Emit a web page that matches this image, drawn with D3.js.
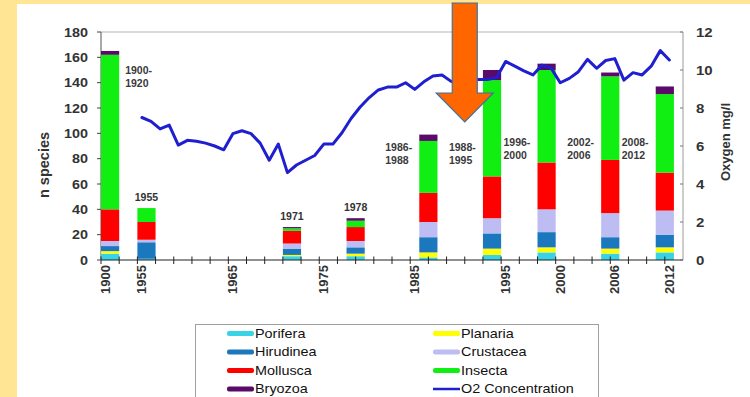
<!DOCTYPE html>
<html>
<head>
<meta charset="utf-8">
<script src="https://cdn.jsdelivr.net/npm/d3@7/dist/d3.min.js"></script>
<style>
  html, body { margin: 0; padding: 0; background: #fff; }
  svg { display: block; }
  text { font-family: "Liberation Sans", Arial, sans-serif; }
</style>
</head>
<body>
<div id="chart"></div>
<script>
// ---------------- DATA ----------------
// x-axis category keys (one slot each); blank slots between 1900 and 1955 and after 2012
const o2Years = ["1955","1956","1957","1958","1959","1960","1961","1962","1963","1964",
  "1965","1966","1967","1968","1969","1970","1971","1972","1973","1974",
  "1975","1976","1977","1978","1979","1980","1981","1982","1983","1984",
  "1985","1986","1987","1988","1989","1990","1991","1992","1993","1994",
  "1995","1996","1997","1997b","1998","1999","2000","2001","2002","2003",
  "2004","2005","2006","2007","2008","2009","2010","2011","2012"];
const o2Values = [7.5,7.3,6.9,7.1,6.05,6.3,6.25,6.15,6.0,5.8,
  6.65,6.8,6.65,6.15,5.25,6.1,4.6,5.0,5.25,5.5,
  6.1,6.1,6.7,7.45,8.05,8.55,8.95,9.1,9.1,9.33,
  8.98,9.38,9.68,9.74,9.4,9.3,9.5,9.5,9.5,9.6,
  10.45,10.2,9.95,9.74,10.26,10.1,9.33,9.56,9.91,10.56,
  10.09,10.5,10.6,9.47,9.86,9.74,10.2,11.02,10.53];
const xCategories = ["1900","gap1","gap2","gap3"].concat(o2Years, ["pad"]);
const xTickLabels = ["1900","1955","1965","1975","1985","1995","2000","2006","2012"];

// stacked bars (n species per group)
const barSlots  = ["1900","1955","1971","1978","1986","1993","1998","2005","2011"];
const porifera  = [5, 1, 3, 3, 2, 4, 6, 5, 6];
const planaria  = [2, 0, 1, 2, 4, 5, 4, 4, 4];
const hirudinea = [4, 13, 5, 5, 12, 12, 12, 9, 10];
const crustacea = [4, 2, 4, 5, 12, 12, 18, 19, 19];
const mollusca  = [25, 14, 10, 11, 23, 33, 37, 42, 30];
const insecta   = [122, 11, 2, 5, 41, 76, 73, 66, 62];
const bryozoa   = [3, 0, 1, 2, 5, 8, 5, 3, 6];

const taxa = ["Porifera","Planaria","Hirudinea","Crustacea","Mollusca","Insecta","Bryozoa"];
const taxaValues = [porifera, planaria, hirudinea, crustacea, mollusca, insecta, bryozoa];

const leftTicks  = [0,20,40,60,80,100,120,140,160,180];
const rightTicks = [0,2,4,6,8,10,12];

// annotations
const singleNotes = [{bar:"1955", text:"1955"},{bar:"1971", text:"1971"},{bar:"1978", text:"1978"}];
const periodNotes = [
  {bar:"1900", lines:["1900-","1920"], side:"right", at:150},
  {bar:"1986", lines:["1986-","1988"], side:"left", at:89},
  {bar:"1993", lines:["1988-","1995"], side:"left", at:89},
  {bar:"1998", lines:["1996-","2000"], side:"left", at:93},
  {bar:"2005", lines:["2002-","2006"], side:"left", at:93},
  {bar:"2011", lines:["2008-","2012"], side:"left", at:93}
];

// ---------------- STYLE ----------------
const colors = {
  Porifera:"#38D3E6", Planaria:"#FFFF00", Hirudinea:"#1C78BE", Crustacea:"#BDBDF4",
  Mollusca:"#FF0000", Insecta:"#11EE11", Bryozoa:"#5A0A68"
};
const lineColor = "#1F1FCF";

const W = 750, H = 397;
const svg = d3.select("#chart").append("svg").attr("width", W).attr("height", H);

// frame background
svg.append("rect").attr("width", W).attr("height", H).attr("fill", "#FFE594");
svg.append("rect").attr("x", 17).attr("y", 4).attr("width", W - 17).attr("height", H - 4).attr("fill", "#fff");

const plot = {l: 101, r: 683, t: 32, b: 260};

const x = d3.scaleBand().domain(xCategories).range([plot.l, plot.r]).padding(0);
const yL = d3.scaleLinear().domain([0, 180]).range([plot.b, plot.t]);
const yR = d3.scaleLinear().domain([0, 12]).range([plot.b, plot.t]);

// plot frame lines
svg.append("line").attr("x1", plot.l).attr("x2", plot.r).attr("y1", plot.t).attr("y2", plot.t)
  .attr("stroke", "#b5b5b5").attr("stroke-width", 1);
svg.append("line").attr("x1", plot.r).attr("x2", plot.r).attr("y1", plot.t).attr("y2", plot.b)
  .attr("stroke", "#9a9a9a").attr("stroke-width", 1);
svg.append("line").attr("x1", plot.l).attr("x2", plot.l).attr("y1", plot.t).attr("y2", plot.b)
  .attr("stroke", "#555").attr("stroke-width", 1);

// ---------------- BARS ----------------
const rows = barSlots.map((s, i) => {
  const o = {slot: s};
  taxa.forEach((t, k) => o[t] = taxaValues[k][i]);
  return o;
});
const stacked = d3.stack().keys(taxa)(rows);
const bw = x.bandwidth() * 2;

svg.append("g").selectAll("g").data(stacked).join("g")
  .attr("fill", d => colors[d.key])
  .selectAll("rect").data(d => d).join("rect")
  .attr("x", d => x(d.data.slot))
  .attr("width", bw)
  .attr("y", d => yL(d[1]))
  .attr("height", d => Math.max(0, yL(d[0]) - yL(d[1])));

// ---------------- AXES ----------------
// x axis line + ticks every 2 slots
svg.append("line").attr("x1", plot.l).attr("x2", plot.r).attr("y1", plot.b).attr("y2", plot.b)
  .attr("stroke", "#222").attr("stroke-width", 1.2);
const xTickSlots = xCategories.filter((c, i) => i % 2 === 0);
svg.append("g").selectAll("line").data(xTickSlots).join("line")
  .attr("x1", d => x(d)).attr("x2", d => x(d))
  .attr("y1", plot.b - 3.5).attr("y2", plot.b + 4)
  .attr("stroke", "#222").attr("stroke-width", 1);

svg.append("g").selectAll("text").data(xTickLabels).join("text")
  .attr("transform", d => `translate(${x(d) + x.bandwidth() / 2},265) rotate(-90)`)
  .attr("text-anchor", "end").attr("dy", "0.35em")
  .attr("font-size", 13).attr("font-weight", "bold").attr("fill", "#333")
  .text(d => d);

// left axis
svg.append("g").selectAll("line").data(leftTicks).join("line")
  .attr("x1", plot.l - 4).attr("x2", plot.l).attr("y1", d => yL(d)).attr("y2", d => yL(d))
  .attr("stroke", "#444");
svg.append("g").selectAll("text").data(leftTicks).join("text")
  .attr("transform", d => `translate(88,${yL(d)}) scale(1.15,1)`)
  .attr("text-anchor", "end").attr("dy", "0.36em")
  .attr("font-size", 12.5).attr("font-weight", "bold").attr("fill", "#333")
  .text(d => d);

// right axis
svg.append("g").selectAll("line").data(rightTicks).join("line")
  .attr("x1", plot.r - 3).attr("x2", plot.r).attr("y1", d => yR(d)).attr("y2", d => yR(d))
  .attr("stroke", "#777");
svg.append("g").selectAll("text").data(rightTicks).join("text")
  .attr("transform", d => `translate(696,${yR(d)}) scale(1.2,1)`)
  .attr("text-anchor", "start").attr("dy", "0.36em")
  .attr("font-size", 12.5).attr("font-weight", "bold").attr("fill", "#333")
  .text(d => d);

// axis titles
svg.append("text").attr("transform", "translate(44,165) rotate(-90)")
  .attr("text-anchor", "middle").attr("dy", "0.35em")
  .attr("font-size", 14.5).attr("font-weight", "bold").attr("fill", "#333")
  .text("n species");
svg.append("text").attr("transform", "translate(725,142) rotate(-90)")
  .attr("text-anchor", "middle").attr("dy", "0.35em")
  .attr("font-size", 13).attr("font-weight", "bold").attr("fill", "#333")
  .text("Oxygen mg/l");

// ---------------- O2 LINE ----------------
const line = d3.line()
  .x((d, i) => x(o2Years[i]) + x.bandwidth() / 2)
  .y(d => yR(d));
svg.append("path").datum(o2Values).attr("d", line)
  .attr("fill", "none").attr("stroke", lineColor).attr("stroke-width", 3)
  .attr("stroke-linejoin", "round").attr("stroke-linecap", "round");

// ---------------- ANNOTATIONS ----------------
svg.append("g").selectAll("text").data(singleNotes).join("text")
  .attr("x", d => x(d.bar) + bw / 2)
  .attr("y", d => yL(d3.sum(taxaValues, v => v[barSlots.indexOf(d.bar)])) - 7)
  .attr("text-anchor", "middle")
  .attr("font-size", 10.5).attr("font-weight", "bold").attr("fill", "#333")
  .text(d => d.text);

periodNotes.forEach(n => {
  const x0 = n.side === "right" ? x(n.bar) + bw + 6 : x(n.bar) - 34;
  const t = svg.append("text")
    .attr("x", x0).attr("y", yL(n.at) + 4)
    .attr("font-size", 10.5).attr("font-weight", "bold").attr("fill", "#3a3a3a");
  n.lines.forEach((s, k) => t.append("tspan").attr("x", x0).attr("dy", k === 0 ? 0 : 13).text(s));
});

// orange arrow (decoration) centred on the boundary between 1990 and 1991
const cx = x("1991");
const arrow = [[cx - 12.5, 3], [cx + 12.5, 3], [cx + 12.5, 93], [cx + 28.5, 93],
               [cx, 122], [cx - 28.5, 93], [cx - 12.5, 93]];
svg.append("path").attr("d", d3.line()(arrow) + "Z")
  .attr("fill", "#FF6600").attr("stroke", "#41719C").attr("stroke-width", 1.2);

// ---------------- LEGEND ----------------
const legend = svg.append("g");
legend.append("rect").attr("x", 195.5).attr("y", 324.5).attr("width", 403).attr("height", 90)
  .attr("fill", "#fff").attr("stroke", "#a0a0a0");
const legendItems = [
  ["Porifera", 0, 0], ["Planaria", 1, 0],
  ["Hirudinea", 0, 1], ["Crustacea", 1, 1],
  ["Mollusca", 0, 2], ["Insecta", 1, 2],
  ["Bryozoa", 0, 3], ["O2 Concentration", 1, 3]
];
const colX = [227, 433], rowY = [333.5, 352, 370.5, 389];
legendItems.forEach(([name, c, r]) => {
  const sx = colX[c], sy = rowY[r];
  if (name === "O2 Concentration") {
    legend.append("line").attr("x1", sx).attr("x2", sx + 27).attr("y1", sy).attr("y2", sy)
      .attr("stroke", lineColor).attr("stroke-width", 2.5);
  } else {
    legend.append("rect").attr("x", sx).attr("y", sy - 2.5).attr("width", 27).attr("height", 5)
      .attr("rx", 2).attr("fill", colors[name]);
  }
  legend.append("text").attr("transform", `translate(${sx + 28},${sy}) scale(1.2,1)`)
    .attr("dy", "0.36em").attr("font-size", 12).attr("fill", "#111").text(name);
});
</script>
</body>
</html>
